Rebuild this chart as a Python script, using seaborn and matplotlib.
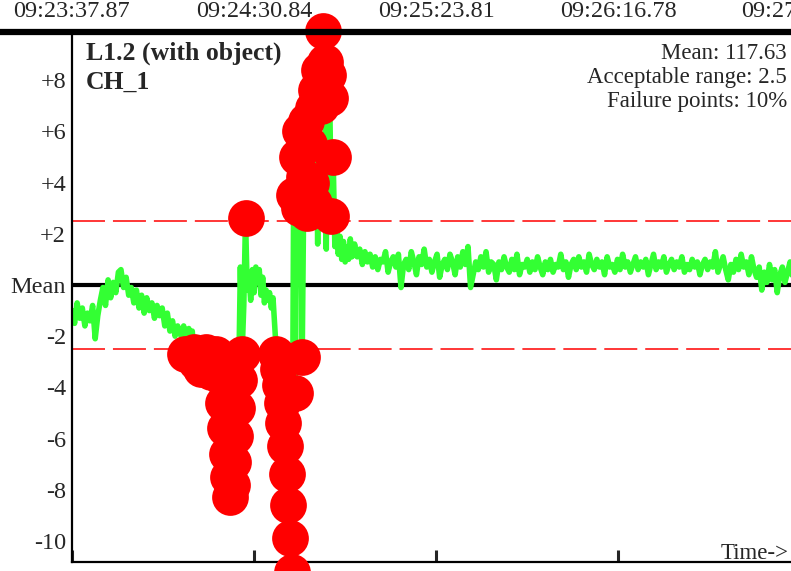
import numpy as np
import matplotlib
matplotlib.use("Agg")
import matplotlib.pyplot as plt
from matplotlib.lines import Line2D
import seaborn as sns

# deviation from mean (units)
# calm start: one sample every 0.75 s from t = 0
calm_before = [
    -1.0, -1.5, -0.7, -1.3, -0.9, -1.6, -1.1, -1.4, -0.8, -2.1,
    -1.2, -0.6, -0.1, -0.8, 0.2, -0.5, 0.1, -0.3, 0.5, 0.6,
    -0.1, 0.3, -0.4, -0.1, -0.7, -0.2, -0.9, -0.4, -1.1, -0.5,
    -1.0, -0.7, -1.3, -0.8, -1.2, -0.9, -1.6, -1.1, -1.8, -1.4,
    -2.0, -1.6, -1.9,
]
# disturbance: one sample every 0.5 s from t = 32 s
disturbance = [
    -2.1, -1.6, -2.7, -2.0, -1.7, -2.3, -1.8, -2.6, -3.0, -2.2,
    -2.8, -3.3, -2.7, -3.1, -2.6, -3.2, -2.9, -3.4, -2.8, -3.1,
    -2.7, -3.3, -2.9, -3.6, -4.6, -5.6, -6.6, -7.5, -8.3, -7.8,
    -6.9, -5.9, -4.8, -3.7, 0.7, -2.7, -0.8, 2.6, -0.2, 0.4,
    -0.6, 0.6, -0.3, 0.7, 0.1, 0.6, -0.4, 0.3, -0.7, -0.2,
    -0.6, -0.3, -0.9, -0.5, -1.6, -2.7, -3.3, -3.9, -4.6, -5.4,
    -6.3, -7.4, -8.6, -9.9, -11.2, 3.5, -4.2, 5.0, 3.0, 6.0,
    -2.8, 4.2, 6.4, 2.8, 5.5, 4.0, 6.9, 3.2, 7.6, 1.6,
    8.4, 7.0, 9.9, 8.7, 1.4, 8.2, 7.3, 2.7, 5.0, 1.5,
    2.2, 1.2, 1.9, 1.0, 1.7, 0.9, 1.5, 1.0, 1.8, 1.1,
]
# settled: one sample every 0.75 s from t = 82.25 s
calm_after = [
    1.6, 1.1, 1.4, 0.8, 1.3, 0.9, 1.2, 0.7, 1.1, 0.6,
    1.0, 0.9, 1.3, 0.5, 0.9, 1.1, 0.7, 1.2, -0.1, 0.8,
    1.0, 0.6, 1.3, 0.9, 0.4, 1.1, 0.8, 1.4, 0.7, 1.0,
    0.5, 0.9, 1.2, 0.3, 0.8, 1.0, 0.6, 1.2, 0.9, 0.4,
    1.1, 0.7, 1.3, 0.8, 1.5, -0.1, 0.4, 0.9, 0.6, 1.1,
    0.7, 1.3, 0.5, 0.9, 0.8, 0.2, 0.9, 0.6, 1.1, 0.7,
    0.5, 1.0, 0.6, 1.2, 0.4, 0.8, 0.7, 1.0, 0.5, 0.9,
    0.6, 1.1, 0.7, 0.4, 0.9, 0.6, 1.0, 0.5, 0.8, 0.7,
    1.2, 0.6, 0.9, 0.3, 0.8, 1.0, 0.6, 1.1, 0.7, 0.9,
    0.5, 1.2, 0.8, 0.6, 1.0, 0.7, 0.9, 0.4, 1.1, 0.7,
    0.8, 0.5, 1.0, 0.6, 1.2, 0.7, 0.9, 0.5, 0.8, 1.1,
    0.6, 0.9, 0.7, 1.0, 0.4, 0.8, 1.2, 0.6, 0.9, 0.7,
    1.1, 0.5, 0.8, 1.0, 0.6, 0.9, 0.7, 1.1, 0.5, 0.8,
    0.6, 1.0, 0.7, 0.9, 0.4, 0.8, 1.0, 0.6, 0.9, 0.7,
    1.3, 0.5, 0.8, 1.1, 0.6, 0.2, 0.8, 0.5, 1.0, 0.6,
    1.2, 0.7, 0.9, 0.4, 1.1, 0.6, 0.3, 0.7, -0.2, 0.5,
    0.1, 0.8, 0.2, 0.6, -0.3, 0.4, 0.7, 0.1, 0.5, 0.9,
    0.2, 0.6,
]
accept_range = 2.5
time_ticks = [0, 52.97, 105.94, 158.91, 211.88]
time_labels = ["09:23:37.87", "09:24:30.84", "09:25:23.81", "09:26:16.78", "09:27:09.75"]
y_ticks = [-10, -8, -6, -4, -2, 0, 2, 4, 6, 8]
y_labels = ["-10", "-8", "-6", "-4", "-2", "Mean", "+2", "+4", "+6", "+8"]
info_lines = ["Mean: 117.63", "Acceptable range: 2.5", "Failure points: 10%"]

secs = np.concatenate([
    np.arange(len(calm_before)) * 0.75,
    32.0 + np.arange(len(disturbance)) * 0.5,
    82.25 + np.arange(len(calm_after)) * 0.75,
])
dev = np.array(calm_before + disturbance + calm_after)
fails = np.abs(dev) > accept_range

sns.set_style("white")
plt.rcParams["font.family"] = ["Liberation Serif", "DejaVu Serif"]

W, H = 791, 571
fig = plt.figure(figsize=(W / 100, H / 100), dpi=100)
ax = fig.add_axes([72 / W, 9 / H, (840 - 72) / W, (562 - 32) / H])

ax.axhline(0, color="black", lw=3, zorder=1)
for lvl in (-accept_range, accept_range):
    ax.axhline(lvl, color="#ff0000", lw=1.1, dashes=(21.6, 5.2), zorder=1)

sns.lineplot(x=secs, y=dev, color="#33ff33", lw=4, ax=ax, zorder=2)
sns.scatterplot(x=secs[fails], y=dev[fails], color="#ff0000", s=700,
                linewidth=0, clip_on=False, ax=ax, zorder=3)

ax.set_xlim(0, (840 - 72) * 0.29104)
ax.set_ylim(-10.82, 9.88)
ax.set_xticks(time_ticks)
ax.set_xticklabels(time_labels)
ax.set_yticks(y_ticks)
ax.set_yticklabels(y_labels)
ax.tick_params(axis="x", direction="in", length=8.6, width=2.2, top=False,
               bottom=True, labeltop=True, labelbottom=False, labelsize=17.5, pad=7)
ax.tick_params(axis="y", direction="in", length=7, width=2.2, labelsize=17.5, pad=4.3)
for s in ["top", "right"]:
    ax.spines[s].set_visible(False)
for s in ["left", "bottom"]:
    ax.spines[s].set_linewidth(1.6)
    ax.spines[s].set_color("black")
ax.set_xlabel("")
ax.set_ylabel("")

fig.add_artist(Line2D([0, 1], [1 - 32 / H, 1 - 32 / H], transform=fig.transFigure,
                      color="black", lw=4.5, zorder=5))

fig.text(86 / W, 1 - 60 / H, "L1.2 (with object)", ha="left", va="baseline",
         fontsize=18.5, fontweight="bold")
fig.text(86 / W, 1 - 89 / H, "CH_1", ha="left", va="baseline",
         fontsize=18.5, fontweight="bold")
for k, line in enumerate(info_lines):
    fig.text(787 / W, 1 - (59 + 24 * k) / H, line, ha="right", va="baseline",
             fontsize=16.5)
fig.text(789 / W, 1 - 559 / H, "Time->", ha="right", va="baseline", fontsize=16.5)

fig.savefig("out.png", dpi=100)
